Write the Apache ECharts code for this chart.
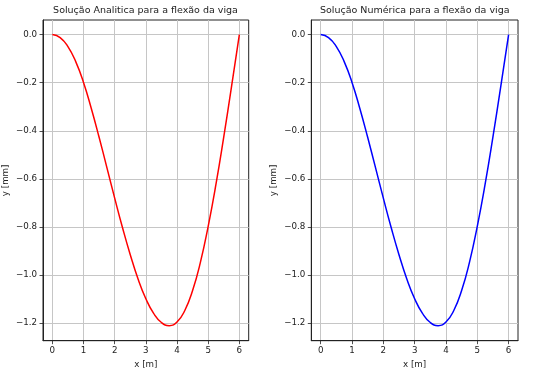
<!DOCTYPE html>
<html>
<head>
<meta charset="utf-8">
<script src="https://cdn.jsdelivr.net/npm/echarts@6/dist/echarts.min.js"></script>
<style>
html,body{margin:0;padding:0;background:#fff;}
#c{width:534px;height:376px;}
</style>
</head>
<body>
<div id="c"></div>
<script>
var xValues = [0, 0.25, 0.5, 0.75, 1.0, 1.25, 1.5, 1.75, 2.0, 2.25, 2.5, 2.75, 3.0, 3.25, 3.5, 3.75, 4.0, 4.25, 4.5, 4.75, 5.0, 5.25, 5.5, 5.75, 6.0];
var yAnalitica = [0, -0.0125, -0.050, -0.1125, -0.199, -0.307, -0.427, -0.553, -0.680, -0.802, -0.915, -1.016, -1.098, -1.159, -1.197, -1.210, -1.195, -1.147, -1.064, -0.947, -0.797, -0.622, -0.425, -0.215, 0];
var yNumerica = [0, -0.0125, -0.050, -0.1125, -0.199, -0.307, -0.427, -0.553, -0.680, -0.802, -0.915, -1.016, -1.098, -1.159, -1.197, -1.210, -1.195, -1.147, -1.064, -0.947, -0.797, -0.622, -0.425, -0.215, 0];
var xTicks = [0, 1, 2, 3, 4, 5, 6];
var yTicks = [-1.2, -1.0, -0.8, -0.6, -0.4, -0.2, 0.0];
var titles = ['Solução Analitica para a flexão da viga', 'Solução Numérica para a flexão da viga'];

var FONT = 'DejaVu Sans';
function pairs(xs, ys){ return xs.map(function(x,i){ return [x, ys[i]]; }); }
function yFmt(v){ if (Math.abs(v) < 1e-9) return '0.0'; return (v < 0 ? '\u2212' : '') + Math.abs(v).toFixed(1); }

var grids = [
  {left: 42.3, top: 20, width: 206.4, height: 320.7},
  {left: 311.3, top: 20, width: 206.7, height: 320.7}
];
var gridColor = '#c6c6c6';
function xAxisCfg(i){
  return {
    type: 'value', gridIndex: i, min: -0.3, max: 6.3,
    name: 'x [m]', nameLocation: 'middle', nameGap: 18,
    nameTextStyle: {fontFamily: FONT, fontSize: 8.7, color: '#222'},
    axisLine: {show: true, onZero: false, lineStyle: {color: '#222', width: 1}},
    axisTick: {show: true, inside: false, length: 3.5, customValues: xTicks, lineStyle: {color: '#222', width: 0.8}},
    axisLabel: {show: true, margin: 6, customValues: xTicks, fontFamily: FONT, fontSize: 8.7, color: '#222', formatter: function(v){ return String(Math.round(v)); }},
    splitLine: {show: true, lineStyle: {color: gridColor, width: 1}}
  };
}
function yAxisCfg(i){
  return {
    type: 'value', gridIndex: i, min: -1.2726, max: 0.0606,
    name: 'y [mm]', nameLocation: 'middle', nameGap: 33, nameRotate: 90,
    nameTextStyle: {fontFamily: FONT, fontSize: 8.7, color: '#222'},
    axisLine: {show: true, onZero: false, lineStyle: {color: '#222', width: 1}},
    axisTick: {show: true, inside: false, length: 3.5, customValues: yTicks, lineStyle: {color: '#222', width: 0.8}},
    axisLabel: {show: true, margin: 6, customValues: yTicks, fontFamily: FONT, fontSize: 8.7, color: '#222', formatter: yFmt},
    splitLine: {show: true, lineStyle: {color: gridColor, width: 1}}
  };
}

var chart = echarts.init(document.getElementById('c'), null, {renderer: 'canvas'});
chart.setOption({
  animation: false,
  backgroundColor: '#fff',
  title: [
    {text: titles[0], left: 145.5, top: 6, textAlign: 'center', padding: 0, textStyle: {fontFamily: FONT, fontSize: 9.5, fontWeight: 'normal', color: '#222'}},
    {text: titles[1], left: 414.7, top: 6, textAlign: 'center', padding: 0, textStyle: {fontFamily: FONT, fontSize: 9.5, fontWeight: 'normal', color: '#222'}}
  ],
  grid: grids.map(function(g){ return Object.assign({show: true, borderColor: '#222', borderWidth: 1, backgroundColor: 'transparent', containLabel: false}, g); }),
  xAxis: [xAxisCfg(0), xAxisCfg(1)],
  yAxis: [yAxisCfg(0), yAxisCfg(1)],
  series: [
    {type: 'line', xAxisIndex: 0, yAxisIndex: 0, data: pairs(xValues, yAnalitica), smooth: 0.5, showSymbol: false, lineStyle: {color: '#ff0000', width: 1.5}, itemStyle: {color: '#ff0000'}},
    {type: 'line', xAxisIndex: 1, yAxisIndex: 1, data: pairs(xValues, yNumerica), smooth: 0.5, showSymbol: false, lineStyle: {color: '#0000ff', width: 1.5}, itemStyle: {color: '#0000ff'}}
  ]
});
</script>
</body>
</html>
